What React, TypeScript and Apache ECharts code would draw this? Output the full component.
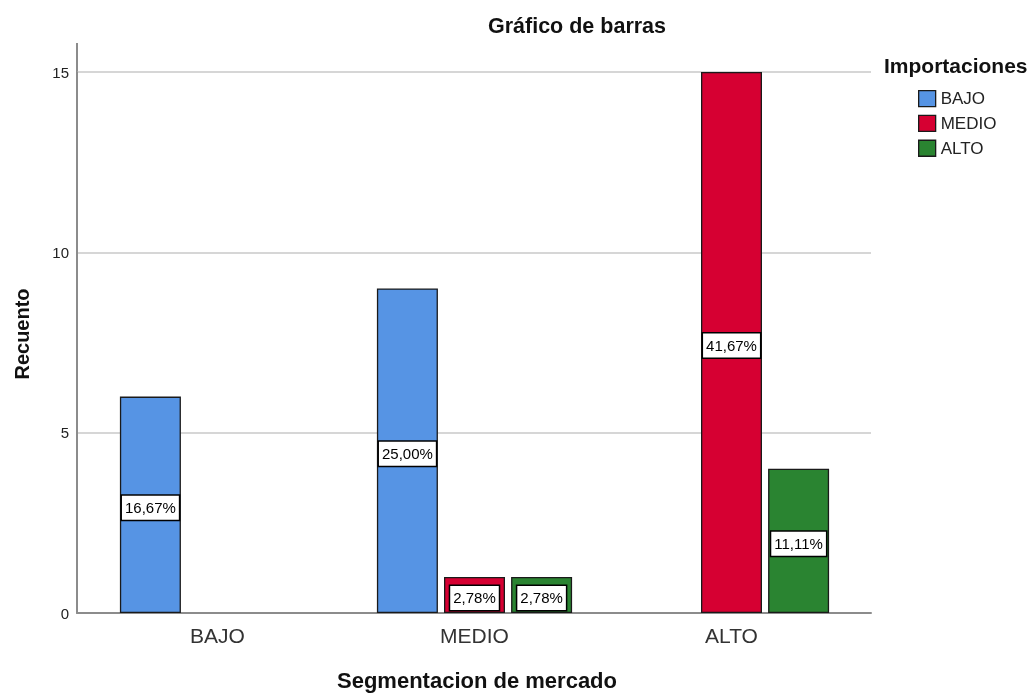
import React, { useEffect, useRef } from "react";
import * as echarts from "echarts";

const categories = ["BAJO", "MEDIO", "ALTO"];
const seriesNames = ["BAJO", "MEDIO", "ALTO"];
const bajoCounts = [6, 9, null];
const medioCounts = [null, 1, 15];
const altoCounts = [null, 1, 4];
const seriesColors = ["#5694e4", "#d60032", "#2a8431"];
const yTicks = { min: 0, max: 15, interval: 5 };

const FONT = "'Liberation Sans', Arial, sans-serif";

export default function App() {
  const ref = useRef<HTMLDivElement>(null);
  useEffect(() => {
    if (!ref.current) return;
    const chart = echarts.init(ref.current, undefined, { renderer: "svg" });
    const allCounts = [bajoCounts, medioCounts, altoCounts];
    const total = allCounts.flat().reduce((s: number, v) => s + (v ?? 0), 0);
    const fmt = (p: any) =>
      ((p.value / total) * 100).toFixed(2).replace(".", ",") + "%";

    const series = allCounts.map((data, i) => ({
      name: seriesNames[i],
      type: "bar",
      xAxisIndex: 1,
      yAxisIndex: 1,
      data,
      barWidth: 61,
      barGap: "10%",
      itemStyle: { color: seriesColors[i], borderColor: "#1a1a1a", borderWidth: 1.3 },
      label: {
        show: true,
        position: "inside",
        offset: [0, 3],
        formatter: fmt,
        fontFamily: FONT,
        fontSize: 15,
        color: "#000",
        backgroundColor: "#fff",
        borderColor: "#000",
        borderWidth: 1.5,
        padding: [5, 3, 4, 3],
      },
    }));

    chart.setOption({
      animation: false,
      textStyle: { fontFamily: FONT },
      grid: [
        { left: 77, right: 165, top: 72, bottom: 80 },
        { left: 89, right: 176, top: 72, bottom: 80 },
      ],
      xAxis: [
        {
          gridIndex: 0,
          type: "value",
          min: 0,
          max: 1,
          axisLine: { show: true, lineStyle: { color: "#8c8c8c", width: 2 } },
          axisTick: { show: false },
          axisLabel: { show: false },
          splitLine: { show: false },
        },
        {
          gridIndex: 1,
          type: "category",
          data: categories,
          axisLine: { show: false },
          axisTick: { show: false },
          axisLabel: { fontFamily: FONT, fontSize: 21, color: "#333", margin: 12 },
        },
      ],
      yAxis: [
        {
          gridIndex: 0,
          type: "value",
          min: yTicks.min,
          max: yTicks.max,
          interval: yTicks.interval,
          axisLine: { show: true, lineStyle: { color: "#8c8c8c", width: 2 } },
          axisTick: { show: false },
          axisLabel: { fontFamily: FONT, fontSize: 15, color: "#222", margin: 8 },
          splitLine: { show: true, lineStyle: { color: "#d6d6d6", width: 2 } },
        },
        {
          gridIndex: 1,
          type: "value",
          min: yTicks.min,
          max: yTicks.max,
          show: false,
        },
      ],
      legend: {
        data: seriesNames,
        orient: "vertical",
        left: 913,
        top: 85,
        itemWidth: 17,
        itemHeight: 16,
        itemGap: 7.5,
        icon: "rect",
        itemStyle: { borderColor: "#1a1a1a", borderWidth: 1.3 },
        textStyle: { fontFamily: FONT, fontSize: 17, color: "#222" },
      },
      graphic: [
        {
          type: "line",
          shape: { x1: 77, y1: 43, x2: 77, y2: 72 },
          style: { stroke: "#8c8c8c", lineWidth: 2 },
        },
        {
          type: "text",
          x: 577,
          y: 26,
          style: {
            text: "Gráfico de barras",
            fontFamily: FONT,
            fontWeight: "bold",
            fontSize: 21.5,
            fill: "#111",
            align: "center",
            verticalAlign: "middle",
          },
        },
        {
          type: "text",
          x: 884,
          y: 65,
          style: {
            text: "Importaciones",
            fontFamily: FONT,
            fontWeight: "bold",
            fontSize: 21,
            fill: "#111",
            align: "left",
            verticalAlign: "middle",
          },
        },
        {
          type: "text",
          x: 22,
          y: 334,
          rotation: Math.PI / 2,
          style: {
            text: "Recuento",
            fontFamily: FONT,
            fontWeight: "bold",
            fontSize: 20,
            fill: "#111",
            align: "center",
            verticalAlign: "middle",
          },
        },
        {
          type: "text",
          x: 477,
          y: 680,
          style: {
            text: "Segmentacion de mercado",
            fontFamily: FONT,
            fontWeight: "bold",
            fontSize: 22,
            fill: "#111",
            align: "center",
            verticalAlign: "middle",
          },
        },
      ],
      series,
    });
    return () => chart.dispose();
  }, []);
  return (
    <div
      ref={ref}
      style={{ position: "fixed", left: 0, top: 0, width: 1036, height: 693 }}
    />
  );
}
